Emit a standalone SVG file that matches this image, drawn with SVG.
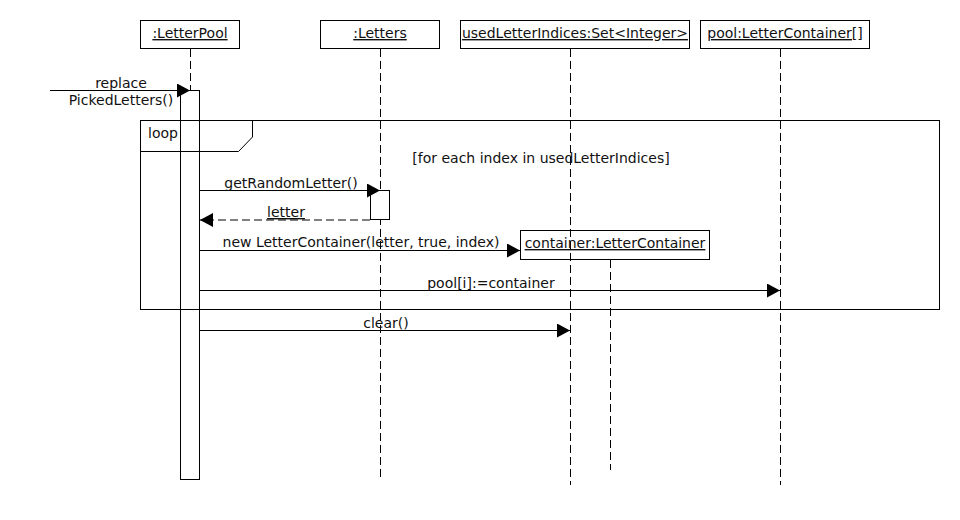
<svg xmlns="http://www.w3.org/2000/svg" width="960" height="520" viewBox="0 0 960 520">
<style>
text{font-family:"DejaVu Sans","Liberation Sans",sans-serif;font-size:14px;fill:#111}
.u{text-decoration:underline}
.box{fill:#fff;stroke:#000;stroke-width:1}
.life{stroke:#000;stroke-width:1;stroke-dasharray:8 4;fill:none}
.msg{stroke:#000;stroke-width:1;fill:none}
.ret{stroke:#000;stroke-width:1;stroke-dasharray:8 4;fill:none}
.frame{stroke:#000;stroke-width:1;fill:none}
</style>
<defs>
<marker id="ah" markerUnits="userSpaceOnUse" markerWidth="14" markerHeight="14" refX="13" refY="7" orient="auto">
<path d="M0,0 L13,7 L0,14 Z" fill="#000"/>
</marker>
</defs>
<rect width="960" height="520" fill="#fff"/>
<g id="lifelines">
<line class="life" x1="190.5" y1="49" x2="190.5" y2="90"/>
<line class="life" x1="380.5" y1="49" x2="380.5" y2="478"/>
<line class="life" x1="570.5" y1="49" x2="570.5" y2="485"/>
<line class="life" x1="610.5" y1="260" x2="610.5" y2="470"/>
<line class="life" x1="780.5" y1="49" x2="780.5" y2="485"/>
</g>
<g id="LetterPool">
<rect class="box" x="140.5" y="20.5" width="99" height="28"/>
<text class="u" x="190" y="38" text-anchor="middle">:LetterPool</text>
<rect class="box" x="180.5" y="90.5" width="19" height="389"/>
</g>
<g id="Letters">
<rect class="box" x="320.5" y="20.5" width="119" height="28"/>
<text class="u" x="380" y="38" text-anchor="middle">:Letters</text>
<rect class="box" x="370.5" y="190.5" width="19" height="29"/>
</g>
<g id="usedLetterIndices">
<rect class="box" x="460.5" y="20.5" width="229" height="28"/>
<text class="u" x="575" y="38" text-anchor="middle">usedLetterIndices:Set&lt;Integer&gt;</text>
</g>
<g id="pool">
<rect class="box" x="700.5" y="20.5" width="169" height="28"/>
<text class="u" x="785" y="38" text-anchor="middle">pool:LetterContainer[]</text>
</g>
<g id="container">
<rect class="frame" x="520.5" y="230.5" width="189" height="29"/>
<text class="u" x="615" y="248" text-anchor="middle">container:LetterContainer</text>
</g>
<g id="loop">
<rect class="frame" x="140.5" y="120.5" width="799" height="189"/>
<path class="frame" d="M140.5,151.5 L238.5,151.5 L252.5,137 L252.5,120.5"/>
<text x="148" y="138">loop</text>
<text x="541" y="163" text-anchor="middle">[for each index in usedLetterIndices]</text>
</g>
<g id="connectors">
<line class="msg" x1="50" y1="90.5" x2="190" y2="90.5" marker-end="url(#ah)"/>
<line class="msg" x1="200" y1="190.5" x2="380" y2="190.5" marker-end="url(#ah)"/>
<line class="ret" x1="370" y1="220" x2="200" y2="220" marker-end="url(#ah)"/>
<line class="msg" x1="200" y1="250.5" x2="520" y2="250.5" marker-end="url(#ah)"/>
<line class="msg" x1="200" y1="290.5" x2="780" y2="290.5" marker-end="url(#ah)"/>
<line class="msg" x1="200" y1="330.5" x2="570" y2="330.5" marker-end="url(#ah)"/>
</g>
<g id="labels">
<text x="121" y="88" text-anchor="middle">replace</text>
<text x="121" y="105" text-anchor="middle">PickedLetters()</text>
<text x="291" y="188" text-anchor="middle">getRandomLetter()</text>
<text class="u" x="286" y="217" text-anchor="middle">letter</text>
<text x="361" y="247" text-anchor="middle">new LetterContainer(letter, true, index)</text>
<text x="491" y="288" text-anchor="middle">pool[i]:=container</text>
<text x="386" y="328" text-anchor="middle">clear()</text>
</g>
</svg>
